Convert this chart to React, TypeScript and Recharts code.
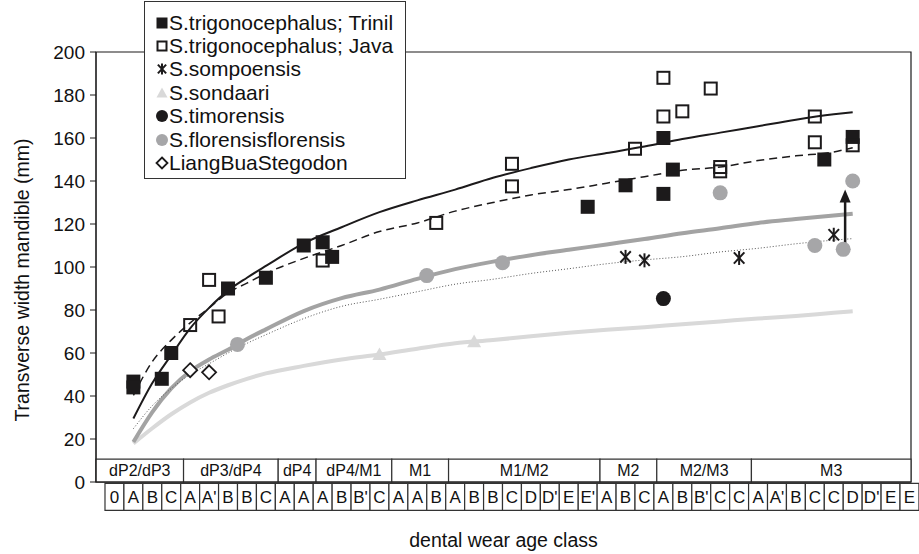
import React from 'react'
import {
  ComposedChart,
  Scatter,
  Line,
  XAxis,
  YAxis,
  ReferenceArea,
  ReferenceLine,
  Legend,
} from 'recharts'

// wear stage cells along the x axis (one unit each, centred on the index)
const stageCells = ['0', 'A', 'B', 'C', 'A', "A'", 'B', 'B', 'C', 'A', 'A', 'A', 'B', "B'", 'C', 'A', 'A', 'B', 'A', 'B', 'B', 'C', 'D', "D'", 'E', "E'", 'A', 'B', 'C', 'A', 'B', "B'", 'C', 'C', 'A', "A'", 'B', 'C', 'C', 'D', "D'", 'E', 'E']
const toothGroups = ['dP2/dP3', 'dP3/dP4', 'dP4', 'dP4/M1', 'M1', 'M1/M2', 'M2', 'M2/M3', 'M3']
const groupSizes = [4, 5, 2, 4, 3, 8, 3, 5, 9]

const yTicks = [0, 20, 40, 60, 80, 100, 120, 140, 160, 180, 200]

// measured specimens
const trinilX = [1, 1, 2.5, 3, 6, 8, 10, 11, 11.5, 25, 27, 29, 29, 29.5, 37.5, 39]
const trinilY = [46.7, 44, 48, 60, 90, 95, 110, 111.5, 104.7, 128, 138, 160, 134, 145.3, 150, 160.5]
const javaX = [4, 5, 5.5, 11, 17, 21, 21, 27.5, 29, 29, 30, 31.5, 32, 32, 37, 37, 39]
const javaY = [73, 94, 77, 103, 120.5, 148, 137.5, 155, 188, 170, 172.4, 183, 146.5, 144.5, 170, 158, 156.6]
const sompoX = [27, 28, 33, 38]
const sompoY = [104.7, 103.1, 104.2, 115]
const sondaariX = [14, 19]
const sondaariY = [59.3, 65.3]
const timorX = [29]
const timorY = [85.3]
const florensisX = [6.5, 16.5, 20.5, 32, 37, 38.5, 39]
const florensisY = [64, 96, 102, 134.5, 110, 108.2, 140]
const liangX = [4, 5]
const liangY = [52, 51]

// growth curves
const fitX = [1, 2, 3, 4, 5, 6, 7, 8, 10, 12, 14, 16, 18, 20, 22, 24, 26, 28, 30, 32, 34, 36, 38, 39]
const trinilFit = [29.5, 46, 59, 71.5, 81, 89, 95, 100.5, 111, 118.5, 125.5, 131, 136, 141.5, 146, 150, 153, 156, 159.5, 162.5, 165.5, 168.5, 171, 172]
const javaFit = [40.3, 56, 66, 74, 81, 88, 92.5, 97, 104, 110, 116.5, 120.5, 126, 130, 133.5, 136, 139, 142, 145, 146.5, 149.5, 151.7, 153.5, 155.5]
const florensisFit = [18.6, 32.5, 43.5, 51.5, 57, 61.5, 66.5, 71, 79.5, 85.5, 89.5, 94.5, 99, 102.5, 105.5, 108, 110.5, 113, 115.7, 118, 120.5, 122.3, 124, 124.8]
const sompoFit = [24.8, 35.5, 43.5, 50, 55, 60, 64.5, 68.5, 76, 81.7, 85, 88.5, 92, 94.3, 97, 99.2, 101.5, 103.3, 104.8, 107, 108.7, 110.8, 112.5, 113.2]
const sondaariFit = [17.9, 25, 31.5, 37, 41.5, 45, 48, 50.5, 54, 57, 59.3, 62, 64.5, 66, 67.8, 69.4, 70.8, 72, 73.4, 74.7, 76, 77.2, 78.7, 79.4]

// arrow next to the last florensis specimens
const arrowX = 38.6
const arrowFrom = 109.3
const arrowTo = 136

const X_MIN = -0.975
const X_MAX = 42.08
const INK = '#1c1a1b'
const FONT = '"Liberation Sans", Arial, sans-serif'

const pts = (xs: number[], ys: number[]) => xs.map((x, i) => ({ x, y: ys[i] }))

const series = [
  { name: 'S.trigonocephalus; Trinil', kind: 'filledSquare', data: pts(trinilX, trinilY) },
  { name: 'S.trigonocephalus; Java', kind: 'openSquare', data: pts(javaX, javaY) },
  { name: 'S.sompoensis', kind: 'star', data: pts(sompoX, sompoY) },
  { name: 'S.sondaari', kind: 'triangle', data: pts(sondaariX, sondaariY) },
  { name: 'S.timorensis', kind: 'dot', data: pts(timorX, timorY) },
  { name: 'S.florensisflorensis', kind: 'greyDot', data: pts(florensisX, florensisY) },
  { name: 'LiangBuaStegodon', kind: 'diamond', data: pts(liangX, liangY) },
]
const seriesNames = series.map((s) => s.name)
const kindOf: Record<string, string> = Object.fromEntries(series.map((s) => [s.name, s.kind]))

function Marker({ kind, cx, cy, s = 7 }: { kind: string; cx: number; cy: number; s?: number }) {
  switch (kind) {
    case 'filledSquare':
      return <rect x={cx - s} y={cy - s} width={2 * s} height={2 * s} fill={INK} />
    case 'openSquare':
      return <rect x={cx - s + 1} y={cy - s + 1} width={2 * s - 2} height={2 * s - 2} fill="none" stroke={INK} strokeWidth={2} />
    case 'star':
      return (
        <g stroke={INK} strokeWidth={2}>
          <line x1={cx - s * 0.75} y1={cy - s * 0.8} x2={cx + s * 0.75} y2={cy + s * 0.8} />
          <line x1={cx + s * 0.75} y1={cy - s * 0.8} x2={cx - s * 0.75} y2={cy + s * 0.8} />
          <line x1={cx} y1={cy - s} x2={cx} y2={cy + s} />
        </g>
      )
    case 'triangle':
      return <polygon points={`${cx},${cy - s} ${cx + s},${cy + s * 0.8} ${cx - s},${cy + s * 0.8}`} fill="#d9d9d9" />
    case 'dot':
      return <circle cx={cx} cy={cy} r={s + 0.5} fill={INK} />
    case 'greyDot':
      return <circle cx={cx} cy={cy} r={s + 0.5} fill="#a6a6a8" />
    default:
      return <polygon points={`${cx},${cy - s} ${cx + s},${cy} ${cx},${cy + s} ${cx - s},${cy}`} fill="#fff" stroke={INK} strokeWidth={1.8} />
  }
}

function LegendBox(props: any) {
  const items = (props.payload || [])
    .filter((e: any) => kindOf[e.value])
    .sort((a: any, b: any) => seriesNames.indexOf(a.value) - seriesNames.indexOf(b.value))
  return (
    <div style={{ background: '#fff', border: '1px solid #333', boxSizing: 'border-box', width: 262, height: 178, paddingTop: 9, fontFamily: FONT }}>
      {items.map((e: any) => (
        <div key={e.value} style={{ display: 'flex', alignItems: 'center', height: 23.4, fontSize: 21, color: '#111', whiteSpace: 'nowrap' }}>
          <svg width={14} height={14} style={{ marginLeft: 10 }}>
            <Marker kind={kindOf[e.value]} cx={7} cy={7} s={5.5} />
          </svg>
          <span>{e.value}</span>
        </div>
      ))}
    </div>
  )
}

function Arrow(p: any) {
  const { x1, y1, x2, y2 } = p
  return (
    <g>
      <line x1={x1} y1={y1} x2={x2} y2={y2 + 10} stroke={INK} strokeWidth={2.5} />
      <polygon points={`${x2},${y2} ${x2 - 5.5},${y2 + 13} ${x2 + 5.5},${y2 + 13}`} fill={INK} />
    </g>
  )
}

// group boxes follow the cell boundaries; the outer ones run to the plot edges
const groupBounds = groupSizes.map((n, i) => {
  const start = groupSizes.slice(0, i).reduce((a, b) => a + b, 0)
  const lo = i === 0 ? X_MIN : start - 0.5 + 0.15
  const hi = i === groupSizes.length - 1 ? X_MAX : start + n - 0.5 + 0.15
  return [lo, hi]
})

export default function App() {
  return (
    <div style={{ position: 'absolute', left: 0, top: 0, fontFamily: FONT }}>
      <ComposedChart width={919} height={554} margin={{ top: 52, right: 8, bottom: 0, left: 0 }}>
        <XAxis
          type="number"
          dataKey="x"
          domain={[X_MIN, X_MAX]}
          allowDataOverflow
          ticks={[]}
          tick={false}
          tickLine={false}
          axisLine={{ stroke: INK }}
          height={72}
          label={(p: any) => {
            const vb = p.viewBox
            return (
              <text x={vb.x + vb.width / 2} y={vb.y + 58} textAnchor="middle" dominantBaseline="central" fontSize={19.5} fill="#111">
                dental wear age class
              </text>
            )
          }}
        />
        <YAxis
          type="number"
          dataKey="y"
          domain={[0, 200]}
          ticks={yTicks}
          allowDataOverflow
          width={96}
          tickSize={6}
          tickMargin={5}
          tick={{ fontSize: 19, fill: '#111' }}
          tickLine={{ stroke: INK }}
          axisLine={{ stroke: INK }}
          label={(p: any) => {
            const vb = p.viewBox
            const cx = vb.x + 22
            const cy = vb.y + vb.height / 2 + 13
            return (
              <text x={cx} y={cy} textAnchor="middle" dominantBaseline="central" transform={`rotate(-90 ${cx} ${cy})`} fontSize={19.5} fill="#111">
                Transverse width mandible (mm)
              </text>
            )
          }}
        />

        <ReferenceArea y1={0} y2={200} fill="none" stroke={INK} strokeWidth={1.2} ifOverflow="visible" />

        {toothGroups.map((g, i) => (
          <ReferenceArea
            key={'g' + i}
            x1={groupBounds[i][0]}
            x2={groupBounds[i][1]}
            y1={0}
            y2={10.6}
            fill="#fff"
            fillOpacity={1}
            stroke="#333"
            strokeWidth={1.2}
            ifOverflow="visible"
            label={{ value: g, position: 'center', fontSize: 16, fill: '#111' }}
          />
        ))}
        {stageCells.map((c, i) => (
          <ReferenceArea
            key={'c' + i}
            x1={i - 0.5}
            x2={i + 0.5}
            y1={-13.2}
            y2={-0.6}
            fill="#fff"
            fillOpacity={1}
            stroke="#333"
            strokeWidth={1.2}
            ifOverflow="visible"
            label={{ value: c, position: 'center', fontSize: 17, fill: '#111' }}
          />
        ))}

        <Line data={pts(fitX, sondaariFit)} dataKey="y" type="monotone" stroke="#d9d9d9" strokeWidth={4} dot={false} activeDot={false} legendType="none" isAnimationActive={false} />
        <Line data={pts(fitX, florensisFit)} dataKey="y" type="monotone" stroke="#a3a3a3" strokeWidth={4} dot={false} activeDot={false} legendType="none" isAnimationActive={false} />
        <Line data={pts(fitX, sompoFit)} dataKey="y" type="monotone" stroke="#555" strokeWidth={1} strokeDasharray="1 2" dot={false} activeDot={false} legendType="none" isAnimationActive={false} />
        <Line data={pts(fitX, javaFit)} dataKey="y" type="monotone" stroke={INK} strokeWidth={1.5} strokeDasharray="8 5" dot={false} activeDot={false} legendType="none" isAnimationActive={false} />
        <Line data={pts(fitX, trinilFit)} dataKey="y" type="monotone" stroke={INK} strokeWidth={2} dot={false} activeDot={false} legendType="none" isAnimationActive={false} />

        {series.map((s) => (
          <Scatter
            key={s.name}
            name={s.name}
            data={s.data}
            fill={s.kind === 'greyDot' ? '#a6a6a8' : INK}
            isAnimationActive={false}
            shape={(p: any) => <Marker kind={s.kind} cx={p.cx} cy={p.cy} />}
          />
        ))}

        <ReferenceLine
          segment={[{ x: arrowX, y: arrowFrom }, { x: arrowX, y: arrowTo }]}
          shape={Arrow}
        />

        <Legend
          layout="vertical"
          align="center"
          verticalAlign="middle"
          content={LegendBox}
          wrapperStyle={{ left: 144, top: 1, width: 262, height: 178 }}
        />
      </ComposedChart>
    </div>
  )
}
